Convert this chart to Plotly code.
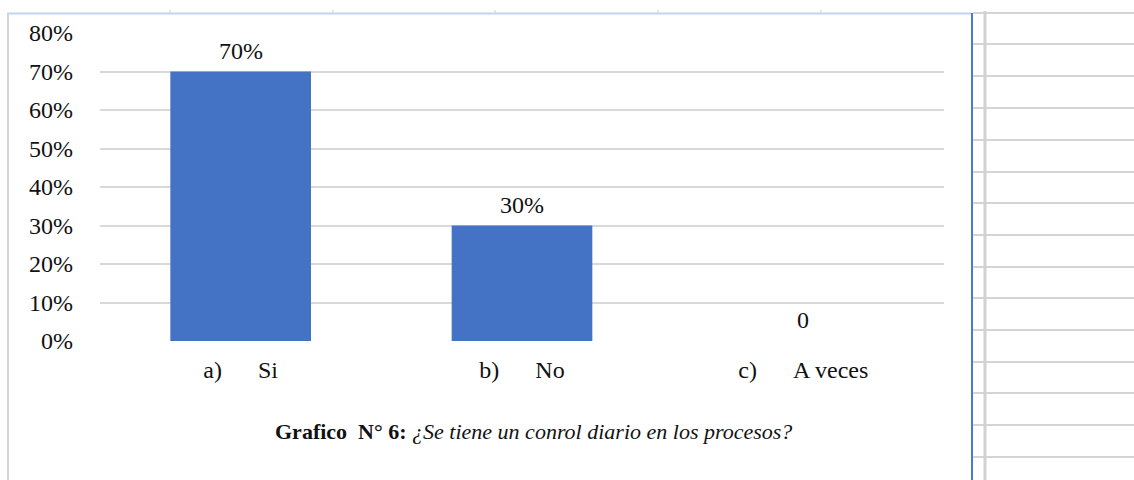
import plotly.graph_objects as go

# Survey answers and their shares
letters = ["a)", "b)", "c)"]
answers = ["Si", "No", "A veces"]
values = [0.70, 0.30, 0.0]
value_labels = ["70%", "30%", "0"]
y_ticks = [0.0, 0.1, 0.2, 0.3, 0.4, 0.5, 0.6, 0.7, 0.8]

W, H = 1134, 480
L, R, T, B = 100, 944, 33, 341  # plot area in pixels
SERIF = "Liberation Serif"
GAP = "\u00a0" * 6


def px_x(px):
    return (px - L) / (R - L)


def px_y(py):
    return (B - py) / (B - T)


tick_text = [f"{a}{GAP}{b}" for a, b in zip(letters, answers)]

fig = go.Figure()
fig.add_trace(go.Bar(
    x=tick_text,
    y=values,
    width=0.5,
    marker=dict(color="#4472c4", line=dict(width=0)),
    hoverinfo="x+y",
))

# value labels above each bar
for cat, v, lab in zip(tick_text, values, value_labels):
    fig.add_annotation(x=cat, y=v, text=lab, showarrow=False,
                       xanchor="center", yanchor="middle", yshift=21,
                       font=dict(family=SERIF, size=24, color="#111111"))

# caption under the chart
fig.add_annotation(
    xref="paper", yref="paper", x=px_x(533), y=px_y(431),
    xanchor="center", yanchor="middle", showarrow=False,
    text="<b>Grafico\u00a0\u00a0N° 6:</b> <i>¿Se tiene un conrol diario en los procesos?</i>",
    font=dict(family=SERIF, size=22, color="#111111"),
)

shapes = []
# chart frame
shapes.append(dict(type="line", xref="paper", yref="paper",
                   x0=px_x(8), x1=px_x(8), y0=px_y(13), y1=px_y(482),
                   line=dict(color="#d6d6d6", width=2)))
shapes.append(dict(type="line", xref="paper", yref="paper",
                   x0=px_x(7), x1=px_x(972), y0=px_y(13.5), y1=px_y(13.5),
                   line=dict(color="#c6d3ee", width=2)))
shapes.append(dict(type="line", xref="paper", yref="paper",
                   x0=px_x(972), x1=px_x(972), y0=px_y(13), y1=px_y(482),
                   line=dict(color="#4a7ad6", width=2)))
# column marks along the top edge
for cx in [170, 333, 495, 658, 821]:
    shapes.append(dict(type="line", xref="paper", yref="paper",
                       x0=px_x(cx), x1=px_x(cx), y0=px_y(10), y1=px_y(13),
                       line=dict(color="#d0d0d0", width=1)))
# sheet cells to the right of the chart
for ry in [13, 44, 76, 108, 140, 172, 203, 235, 267, 298, 330, 362, 393, 425, 457]:
    shapes.append(dict(type="line", xref="paper", yref="paper",
                       x0=px_x(973), x1=px_x(1136), y0=px_y(ry), y1=px_y(ry),
                       line=dict(color="#d4d4d4", width=2)))
shapes.append(dict(type="line", xref="paper", yref="paper",
                   x0=px_x(985), x1=px_x(985), y0=px_y(11), y1=px_y(482),
                   line=dict(color="#d2d2d2", width=3)))

fig.update_layout(
    width=W, height=H,
    margin=dict(l=L, r=W - R, t=T, b=H - B, pad=0),
    paper_bgcolor="white", plot_bgcolor="white",
    showlegend=False,
    bargap=0.5,
    shapes=shapes,
    font=dict(family=SERIF, color="#111111"),
    xaxis=dict(
        type="category",
        showgrid=False, zeroline=False, showline=False, ticks="",
        tickfont=dict(family=SERIF, size=24, color="#111111"),
        ticklabelstandoff=12,
    ),
    yaxis=dict(
        range=[0, 0.8], tickvals=y_ticks, tickformat=".0%",
        showgrid=True, gridcolor="#d9d9d9", gridwidth=1.5,
        zeroline=False, showline=False, ticks="",
        tickfont=dict(family=SERIF, size=24, color="#111111"),
        ticklabelstandoff=26,
    ),
)

fig.write_html("out.html")
